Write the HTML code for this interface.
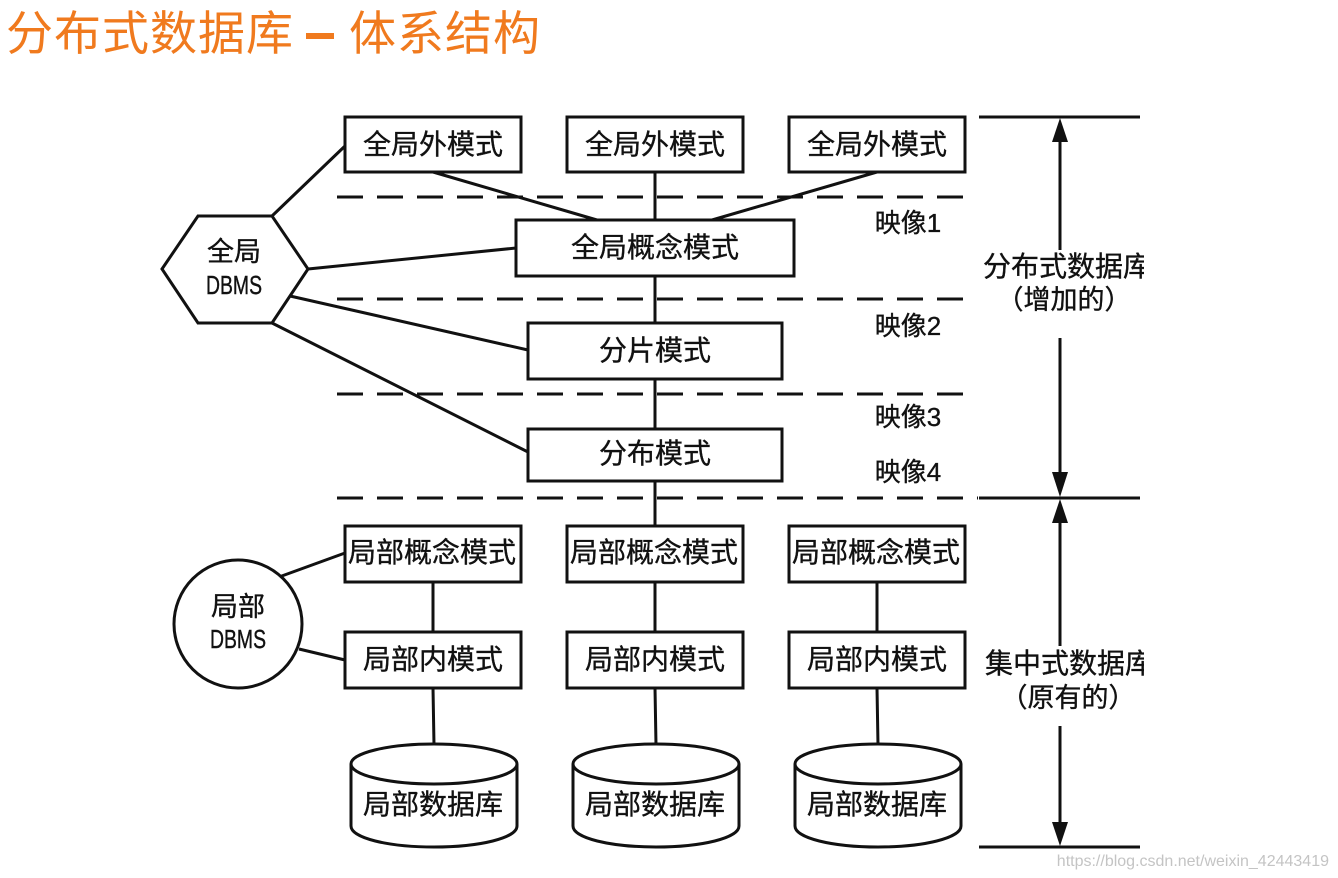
<!DOCTYPE html>
<html>
<head>
<meta charset="utf-8">
<style>
html,body{margin:0;padding:0;background:#fff;width:1338px;height:878px;overflow:hidden}
svg{display:block}
text{font-family:"Liberation Sans","Noto Sans CJK SC",sans-serif;fill:#111}
.l{stroke:#111;stroke-width:3;fill:none}
.d{stroke:#111;stroke-width:3;fill:none;stroke-dasharray:26 14}
.b{stroke:#111;stroke-width:3;fill:#fff}
.t{font-size:28px;text-anchor:middle;stroke:#111;stroke-width:.35}
.m{font-size:26px;text-anchor:middle;stroke:#111;stroke-width:.35}
.h{fill:#111;stroke:none}
.o{font-size:47px;fill:#f07a1e}
</style>
</head>
<body>
<svg width="1338" height="878" viewBox="0 0 1338 878" xmlns="http://www.w3.org/2000/svg" style="filter:blur(.35px)">
<text class="o" x="6" y="50" letter-spacing="1">分布式数据库</text>
<rect x="306" y="33" width="28" height="6" fill="#f07a1e"/>
<text class="o" x="349" y="50" letter-spacing="1">体系结构</text>

<!-- dashed lines -->
<path class="d" d="M337 197H970"/>
<path class="d" d="M337 299H970"/>
<path class="d" d="M337 394H970"/>
<path class="d" d="M337 498H978"/>

<!-- connectors -->
<path class="l" d="M433 172L597 220M655 172V220M877 172L712 220M655 276V323M655 379V429M655 481V526"/>
<path class="l" d="M272 216L345 146M308 269L516 248M290 296L528 350M272 323L528 452"/>
<path class="l" d="M279 577L345 553M299 649L345 660"/>
<path class="l" d="M433 582V632M655 582V632M877 582V632M433 688L434 745M655 688L656 745M877 688L878 745"/>

<!-- top row -->
<rect class="b" x="345" y="117" width="176" height="55"/>
<rect class="b" x="567" y="117" width="176" height="55"/>
<rect class="b" x="789" y="117" width="176" height="55"/>
<text class="t" x="433" y="154">全局外模式</text>
<text class="t" x="655" y="154">全局外模式</text>
<text class="t" x="877" y="154">全局外模式</text>

<rect class="b" x="516" y="220" width="278" height="56"/>
<text class="t" x="655" y="257">全局概念模式</text>
<rect class="b" x="528" y="323" width="254" height="56"/>
<text class="t" x="655" y="360">分片模式</text>
<rect class="b" x="528" y="429" width="254" height="52"/>
<text class="t" x="655" y="463">分布模式</text>

<!-- hexagon -->
<polygon class="b" points="162,269 198,216 272,216 308,269 272,323 198,323"/>
<text class="t" x="234" y="261" style="font-size:27px">全局</text>
<text x="234" y="294" text-anchor="middle" style="font-size:26px;stroke:#111;stroke-width:.4" textLength="56" lengthAdjust="spacingAndGlyphs">DBMS</text>

<!-- circle -->
<circle class="b" cx="238" cy="624" r="64"/>
<text class="t" x="238" y="616" style="font-size:27px">局部</text>
<text x="238" y="648" text-anchor="middle" style="font-size:26px;stroke:#111;stroke-width:.4" textLength="56" lengthAdjust="spacingAndGlyphs">DBMS</text>

<!-- local concept -->
<rect class="b" x="345" y="526" width="176" height="56"/>
<rect class="b" x="567" y="526" width="176" height="56"/>
<rect class="b" x="789" y="526" width="176" height="56"/>
<text class="t" x="432" y="562">局部概念模式</text>
<text class="t" x="654" y="562">局部概念模式</text>
<text class="t" x="876" y="562">局部概念模式</text>

<!-- local internal -->
<rect class="b" x="345" y="632" width="176" height="56"/>
<rect class="b" x="567" y="632" width="176" height="56"/>
<rect class="b" x="789" y="632" width="176" height="56"/>
<text class="t" x="433" y="669">局部内模式</text>
<text class="t" x="655" y="669">局部内模式</text>
<text class="t" x="877" y="669">局部内模式</text>

<!-- cylinders -->
<path class="b" d="M351 764V826C351 838 388 847 434 847C480 847 517 838 517 826V764"/>
<ellipse class="b" cx="434" cy="764" rx="83" ry="20"/>
<path class="b" d="M573 764V826C573 838 610 847 656 847C702 847 739 838 739 826V764"/>
<ellipse class="b" cx="656" cy="764" rx="83" ry="20"/>
<path class="b" d="M795 764V826C795 838 832 847 878 847C924 847 961 838 961 826V764"/>
<ellipse class="b" cx="878" cy="764" rx="83" ry="20"/>
<text class="t" x="433" y="814">局部数据库</text>
<text class="t" x="655" y="814">局部数据库</text>
<text class="t" x="877" y="814">局部数据库</text>

<!-- mapping labels -->
<text class="m" x="908" y="232">映像1</text>
<text class="m" x="908" y="335">映像2</text>
<text class="m" x="908" y="426">映像3</text>
<text class="m" x="908" y="481">映像4</text>

<!-- right bracket -->
<path class="l" d="M979 117H1140M979 498H1140M979 847H1140"/>
<path class="l" d="M1060 130V250M1060 338V485M1060 510V646M1060 726V835"/>
<polygon class="h" points="1060,118 1052,142 1068,142"/>
<polygon class="h" points="1060,497 1052,472 1068,472"/>
<polygon class="h" points="1060,499 1052,523 1068,523"/>
<polygon class="h" points="1060,846 1052,822 1068,822"/>
<svg x="975" y="240" width="169" height="90">
<text x="92" y="36" text-anchor="middle" style="font-size:28px;stroke:#111;stroke-width:.35">分布式数据库</text>
<text x="89" y="69" text-anchor="middle" style="font-size:27px;stroke:#111;stroke-width:.35">（增加的）</text>
</svg>
<svg x="975" y="636" width="169" height="90">
<text x="94" y="37" text-anchor="middle" style="font-size:28px;stroke:#111;stroke-width:.35">集中式数据库</text>
<text x="93" y="71" text-anchor="middle" style="font-size:27px;stroke:#111;stroke-width:.35">（原有的）</text>
</svg>
<text x="1329" y="866" text-anchor="end" style="font-size:16px;fill:#c4c4c4">https://blog.csdn.net/weixin_42443419</text>
</svg>
</body>
</html>
